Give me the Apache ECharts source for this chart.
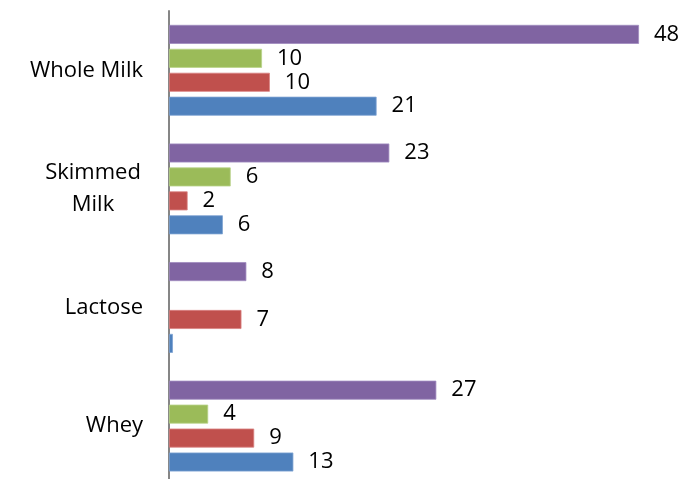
<!DOCTYPE html>
<html><head><meta charset="utf-8">
<script src="https://cdn.jsdelivr.net/npm/echarts@6/dist/echarts.min.js"></script>
<style>html,body{margin:0;padding:0;background:#fff}#c{width:688px;height:479px}</style>
</head><body><div id="c"></div>
<script>
var categories = ['Whey', 'Lactose', 'Skimmed Milk', 'Whole Milk'];
var seriesBlue   = [12.7, 0.4, 5.5, 21.2];
var seriesRed    = [8.7, 7.4, 1.9, 10.3];
var seriesGreen  = [4.0, null, 6.3, 9.5];
var seriesPurple = [27.3, 7.9, 22.5, 48.0];
var colors = ['#8064A2', '#9BBB59', '#C0504D', '#4F81BD'];
var borders = ['#A08BBF', '#B9D38A', '#D98280', '#7FA3D3'];

var font = '"Open Sans", "Liberation Sans", sans-serif';
function mk(name, data, i) {
  return {
    name: name, type: 'bar', data: data, barWidth: 19, barGap: '26%',
    itemStyle: { color: colors[i], borderColor: borders[i], borderWidth: 0.8 },
    label: {
      show: true, position: 'right', distance: 15, color: '#000',
      fontFamily: font, fontSize: 22,
      formatter: function (p) { return (p.value == null || p.value < 0.5) ? '' : String(Math.round(p.value)); }
    }
  };
}
var chart = echarts.init(document.getElementById('c'), null, { renderer: 'canvas' });
chart.setOption({
  animation: false,
  grid: { left: 169, width: 489.6, top: 11, height: 474.4, containLabel: false, outerBoundsMode: 'none' },
  xAxis: { type: 'value', min: 0, max: 50, show: false },
  yAxis: {
    type: 'category', data: categories,
    axisLine: { show: true, lineStyle: { color: '#868686', width: 2 } },
    axisTick: { show: false },
    axisLabel: {
      margin: 26, color: '#000', fontFamily: font, fontSize: 22,
      formatter: function (v) {
        if (v === 'Skimmed Milk') return '{c|Skimmed}\n{c|Milk}';
        return v;
      },
      rich: { c: { width: 100, align: 'center', fontFamily: font, fontSize: 22, color: '#000', lineHeight: 32 } }
    }
  },
  series: [
    mk('Purple', seriesPurple, 0),
    mk('Green', seriesGreen, 1),
    mk('Red', seriesRed, 2),
    mk('Blue', seriesBlue, 3)
  ]
});
</script></body></html>
